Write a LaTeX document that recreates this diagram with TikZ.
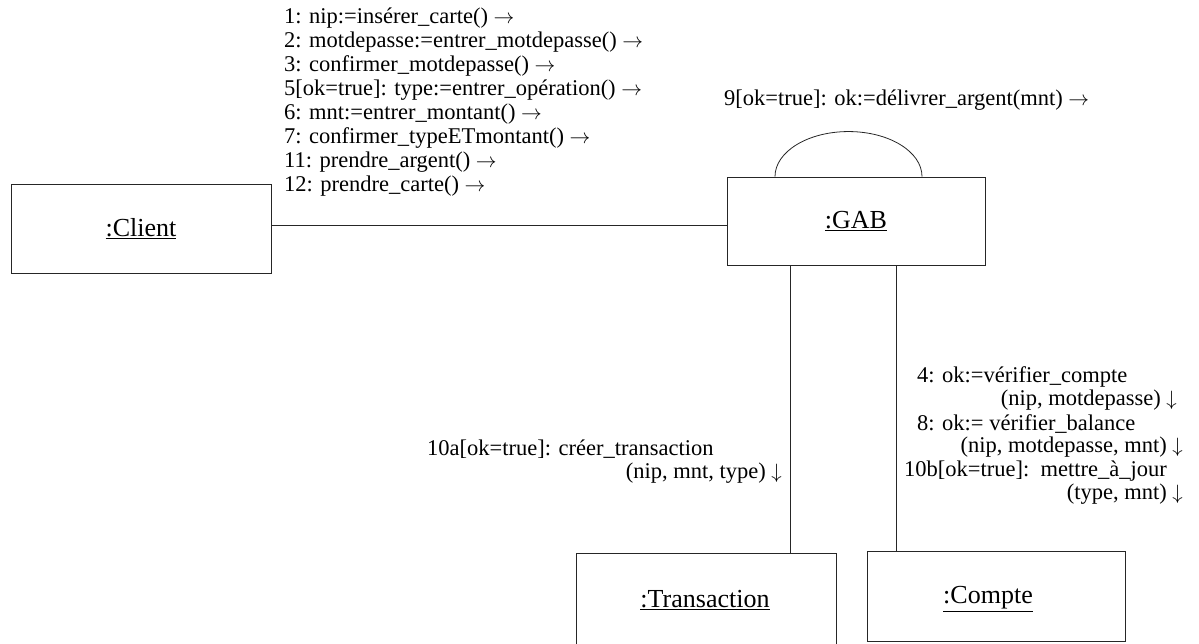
\documentclass[tikz,border=0pt]{standalone}
\usepackage{fontspec}
\setmainfont{Liberation Serif}
\newcommand{\ra}{$\rightarrow$}
\newcommand{\da}{$\downarrow$}
\begin{document}
\begin{tikzpicture}[x=1pt,y=-1pt,
  obj/.style={draw=black!85, line width=0.9pt, inner sep=0pt, font=\fontsize{26}{28}\selectfont},
  lnk/.style={draw=black!85, line width=0.8pt},
  msg/.style={inner sep=0pt, text height=16pt, text depth=5pt, font=\fontsize{22.5}{24}\selectfont, anchor=base west},
  msgr/.style={msg, anchor=base east}]
\useasboundingbox (0,0) rectangle (1199,643);
% objects
\node[obj, minimum width=260pt, minimum height=89pt] (client) at (141,228.5) {\underline{:Client}};
\node[obj, minimum width=258pt, minimum height=88pt] (gab) at (856,221) {\underline{:GAB}};
\node[obj, minimum width=260pt, minimum height=92pt] (trans) at (706,599) {};
\node[obj, minimum width=258pt, minimum height=90pt] (compte) at (996,596) {};
\node[inner sep=0pt, font=\fontsize{26}{28}\selectfont] (transl) at (705,600) {\underline{:Transaction}};
\node[inner sep=0pt, font=\fontsize{26}{28}\selectfont] (comptel) at (988,599) {\underline{:Compte}};
% links
\draw[lnk] ([yshift=3.5pt]client.east) -- ([yshift=-4pt]gab.west);
\draw[lnk] ([xshift=-81pt]gab.north) arc[start angle=180, end angle=0, x radius=73.5pt, y radius=45pt];
\draw[lnk] ([xshift=-66pt]gab.south) -- ([xshift=-66pt]gab.south |- trans.north);
\draw[lnk] ([xshift=40pt]gab.south) -- ([xshift=40pt]gab.south |- compte.north);
% messages client -> GAB
\node[msg] (m1) at (284,23) {1: nip:=insérer\_carte() \ra};
\node[msg] (m2) at (284,47) {2: motdepasse:=entrer\_motdepasse() \ra};
\node[msg] (m3) at (284,71) {3: confirmer\_motdepasse() \ra};
\node[msg] (m5) at (284,95) {5[ok=true]: type:=entrer\_opération() \ra};
\node[msg] (m6) at (284,119) {6: mnt:=entrer\_montant() \ra};
\node[msg] (m7) at (284,143) {7: confirmer\_typeETmontant() \ra};
\node[msg] (m11) at (284,167) {11: prendre\_argent() \ra};
\node[msg] (m12) at (284,191) {12: prendre\_carte() \ra};
% self message
\node[msg] (m9) at (724,105) {9[ok=true]: ok:=délivrer\_argent(mnt) \ra};
% GAB -> Transaction
\node[msg] (m10a) at (427,455) {10a[ok=true]: créer\_transaction};
\node[msgr] (m10ab) at (782,478) {(nip, mnt, type) \da};
% GAB -> Compte
\node[msg] (m4) at (917,382) {4: ok:=vérifier\_compte};
\node[msgr] (m4b) at (1177,405) {(nip, motdepasse) \da};
\node[msg] (m8) at (917,430) {8: ok:= vérifier\_balance};
\node[msgr] (m8b) at (1183,452) {(nip, motdepasse, mnt) \da};
\node[msg] (m10b) at (904,476) {10b[ok=true]:\ \ mettre\_à\_jour};
\node[msgr] (m10bb) at (1183,499) {(type, mnt) \da};
\end{tikzpicture}
\end{document}
